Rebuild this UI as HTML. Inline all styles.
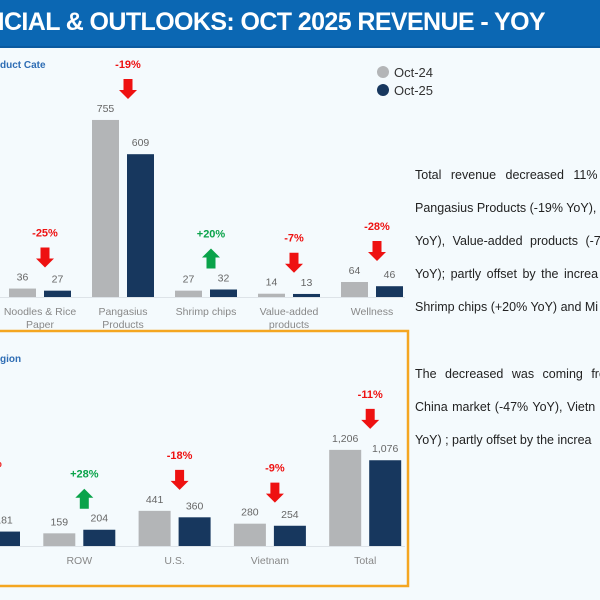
<!DOCTYPE html>
<html><head><meta charset="utf-8">
<style>
html,body{margin:0;padding:0;}
body{width:600px;height:600px;overflow:hidden;background:#f4fafd;font-family:"Liberation Sans",sans-serif;position:relative;}
#hdr{position:absolute;left:0;top:0;width:600px;height:46px;background:#0b67b3;border-bottom:2px solid #0a5aa0;overflow:hidden;}
#hdr span{position:absolute;right:55px;top:8px;color:#fff;font-weight:bold;font-size:25px;white-space:nowrap;letter-spacing:-0.6px;}
#txtbox{position:absolute;left:0;top:0;width:600px;height:600px;overflow:hidden;}
.tx{position:absolute;left:415px;font-size:12.5px;color:#222;white-space:nowrap;}
svg{position:absolute;left:0;top:0;}
</style></head><body>
<div id="hdr"><span>FINANCIAL &amp; OUTLOOKS: OCT 2025 REVENUE - YOY</span></div>
<div id="txtbox">
<div class="tx" style="top:168px;word-spacing:6px">Total revenue decreased 11%</div>
<div class="tx" style="top:201px">Pangasius Products (-19% YoY),</div>
<div class="tx" style="top:234px;word-spacing:4px">YoY), Value-added products (-7</div>
<div class="tx" style="top:267px;word-spacing:2px">YoY); partly offset by the increa</div>
<div class="tx" style="top:300px">Shrimp chips (+20% YoY) and Mi</div>
<div class="tx" style="top:367px;word-spacing:5px">The decreased was coming fro</div>
<div class="tx" style="top:400px;word-spacing:1px">China market (-47% YoY), Vietn</div>
<div class="tx" style="top:433px">YoY) ; partly offset by the increa</div>
</div>
<svg id="c" width="600" height="600"></svg>
<script>
const topCats=["Noodles & Rice|Paper","Pangasius|Products","Shrimp chips","Value-added|products","Wellness"];
const topPrev=[36,755,27,14,64];
const topCurr=[27,609,32,13,46];
const topChg=["-25%","-19%","+20%","-7%","-28%"];
const botCats=["China","ROW","U.S.","Vietnam","Total"];
const botPrev=[341,159,441,280,1206];
const botCurr=[181,204,360,254,1076];
const botChg=["-47%","+28%","-18%","-9%","-11%"];
const labelsTop=["Oct-24","Oct-25"];

const S=document.getElementById('c'),NS='http://www.w3.org/2000/svg';
function mk(t,a,p){const e=document.createElementNS(NS,t);for(const k in a)e.setAttribute(k,a[k]);(p||S).appendChild(e);return e;}
function txt(x,y,s,a){const e=mk('text',Object.assign({x:x,y:y,'text-anchor':'middle','font-family':'Liberation Sans, sans-serif'},a));e.textContent=s;return e;}
function arrow(x,y,up,col){
  const d=up?`M${x} ${y} L${x+9} ${y+9} L${x+4.5} ${y+9} L${x+4.5} ${y+20} L${x-4.5} ${y+20} L${x-4.5} ${y+9} L${x-9} ${y+9}Z`
            :`M${x-4.5} ${y} L${x+4.5} ${y} L${x+4.5} ${y+11} L${x+9} ${y+11} L${x} ${y+20} L${x-9} ${y+11} L${x-4.5} ${y+11}Z`;
  return mk('path',{d:d,fill:col});
}
function fmt(v){return v.toLocaleString('en-US');}
function chart(cfg){
  const {cats,prev,curr,chg,x0,step,base,scale,bw,gap,catY}=cfg;
  mk('line',{x1:0,y1:base+0.5,x2:cfg.xEnd,y2:base+0.5,stroke:'#dde3e8','stroke-width':1});
  cats.forEach((c,i)=>{
    const cx=x0+i*step;
    const hp=prev[i]*scale,hc=curr[i]*scale;
    const b1=mk('rect',{x:cx-gap-bw,y:base-hp,width:bw,height:hp,fill:'#b3b5b7'});
    
    
    const b2=mk('rect',{x:cx+gap,y:base-hc,width:bw,height:hc,fill:'#17375e'});
    
    
    const l1=txt(cx-gap-bw/2,base-hp-8,fmt(prev[i]),{'font-size':10.5,fill:'#666'});
    
    
    const l2=txt(cx+gap+bw/2,base-hc-8,fmt(curr[i]),{'font-size':10.5,fill:'#666'});
    
    
    c.split('|').forEach((ln,k)=>{
      const t=txt(cx,catY+k*13,ln,{'font-size':10.5,fill:'#888'});
      
      
    });
    const top=base-Math.max(hp,hc);
    const up=chg[i][0]==='+',col=up?'#0aa34a':'#ee1111';
    const ax=cx+5;
    const t=txt(ax,top-52,chg[i],{'font-size':11,'font-weight':'bold',fill:col});
    
    
    const a=arrow(ax,top-41,up,col);
    
    
  });
}
const t1=txt(0,68,'duct Cate',{'font-size':10,'font-weight':'bold',fill:'#2e6db4','text-anchor':'start'});


chart({cats:topCats,prev:topPrev,curr:topCurr,chg:topChg,x0:40,step:83,base:297,scale:0.2345,bw:27,gap:4,catY:315,xEnd:405});
const lc=['#b3b5b7','#17375e'];
labelsTop.forEach((l,i)=>{
  const c=mk('circle',{cx:383,cy:72+i*18,r:6,fill:lc[i]});
  
  
  const t=txt(394,77+i*18,l,{'font-size':13,fill:'#333','text-anchor':'start'});
  
  
});
const bx=mk('rect',{x:-5,y:331,width:413,height:255,fill:'none',stroke:'#f4a621','stroke-width':2.5});


const t2=txt(0,362,'gion',{'font-size':10,'font-weight':'bold',fill:'#2e6db4','text-anchor':'start'});


chart({cats:botCats,prev:botPrev,curr:botCurr,chg:botChg,x0:-16,step:95.3,base:546,scale:0.0797,bw:32,gap:4,catY:564,xEnd:405});
</script>
</body></html>
